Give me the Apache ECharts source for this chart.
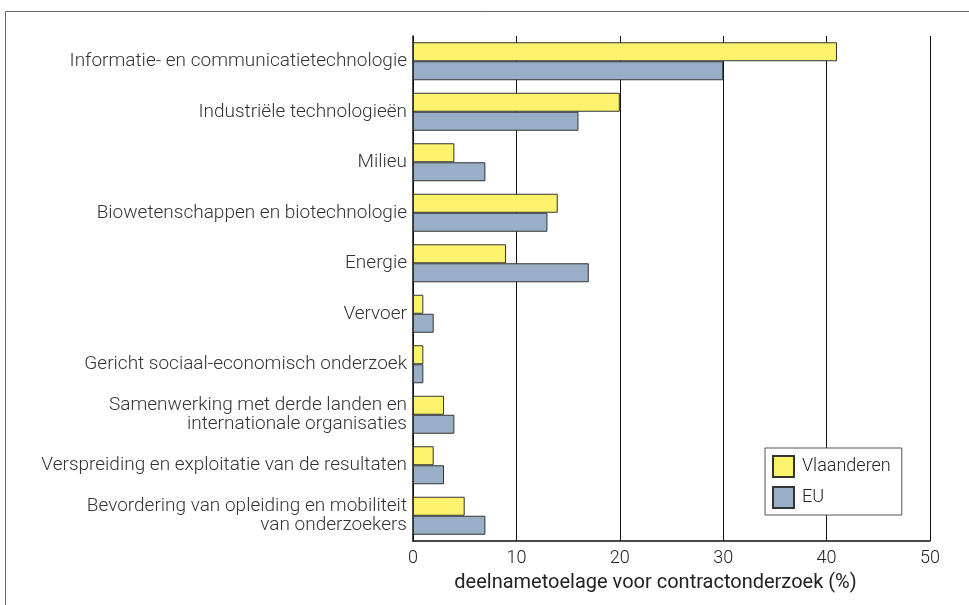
<!DOCTYPE html>
<html>
<head>
<meta charset="utf-8">
<script src="https://cdn.jsdelivr.net/npm/echarts@6/dist/echarts.min.js"></script>
<style>
  html, body { margin: 0; padding: 0; background: #fff; }
  #chart { width: 969px; height: 605px; }
</style>
</head>
<body>
<div id="chart"></div>
<script>
// thema's (van boven naar onder)
const categories = [
  'Informatie- en communicatietechnologie',
  'Industriële technologieën',
  'Milieu',
  'Biowetenschappen en biotechnologie',
  'Energie',
  'Vervoer',
  'Gericht sociaal-economisch onderzoek',
  'Samenwerking met derde landen en\ninternationale organisaties',
  'Verspreiding en exploitatie van de resultaten',
  'Bevordering van opleiding en mobiliteit\nvan onderzoekers'
];
const vlaanderen = [41, 20, 4, 14, 9, 1, 1, 3, 2, 5];
const eu = [30, 16, 7, 13, 17, 2, 1, 4, 3, 7];
const xTicks = [0, 10, 20, 30, 40, 50];

const chart = echarts.init(document.getElementById('chart'));
const fontFamily = 'Roboto, "Liberation Sans", sans-serif';

const option = {
  animation: false,
  textStyle: { fontFamily: fontFamily },
  graphic: [
    {
      type: 'rect',
      shape: { x: 5.5, y: 11.5, width: 1000, height: 700 },
      style: { fill: 'none', stroke: '#666', lineWidth: 1 }
    }
  ],
  legend: {
    left: 765,
    top: 448,
    orient: 'vertical',
    icon: 'rect',
    itemWidth: 21,
    itemHeight: 21,
    itemGap: 8,
    padding: [7, 11, 6, 7],
    borderColor: '#555',
    borderWidth: 1,
    backgroundColor: '#fff',
    textStyle: { fontSize: 18, fontWeight: 300, color: '#222', fontFamily: fontFamily, padding: [0, 0, 0, 3] },
    data: ['Vlaanderen', 'EU']
  },
  grid: { left: 413, right: 39, top: 36, bottom: 64 },
  xAxis: {
    type: 'value',
    min: xTicks[0],
    max: xTicks[xTicks.length - 1],
    interval: 10,
    name: 'deelnametoelage voor contractonderzoek (%)',
    nameLocation: 'middle',
    nameGap: 32,
    nameTextStyle: { fontSize: 20, color: '#222', padding: [0, 32, 0, 0] },
    axisLine: { show: true, lineStyle: { color: '#111', width: 1.5 } },
    axisTick: { show: false },
    axisLabel: { fontSize: 18, fontWeight: 300, color: '#222', margin: 8 },
    splitLine: { show: true, lineStyle: { color: '#111', width: 1 } }
  },
  yAxis: {
    type: 'category',
    inverse: true,
    data: categories,
    axisLine: { show: true, lineStyle: { color: '#111', width: 1.5 } },
    axisTick: { show: false },
    axisLabel: { fontSize: 19, fontWeight: 300, color: '#333', margin: 6, lineHeight: 19, align: 'right' }
  },
  series: [
    {
      name: 'Vlaanderen',
      type: 'bar',
      data: vlaanderen,
      barWidth: 19,
      barGap: '0%',
      itemStyle: { color: '#fcf26b', borderColor: '#333', borderWidth: 1 }
    },
    {
      name: 'EU',
      type: 'bar',
      data: eu,
      barWidth: 19,
      barGap: '0%',
      itemStyle: { color: '#99afc8', borderColor: '#333', borderWidth: 1 }
    }
  ]
};

chart.setOption(option);
</script>
</body>
</html>
